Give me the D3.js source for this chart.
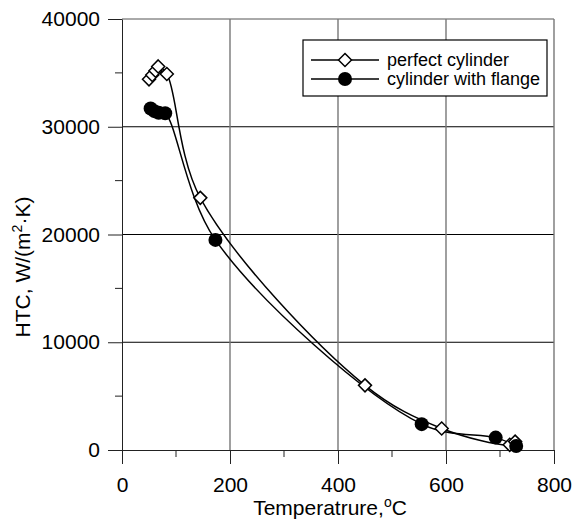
<!DOCTYPE html>
<html>
<head>
<meta charset="utf-8">
<script src="https://cdn.jsdelivr.net/npm/d3@7"></script>
<style>
  body { margin: 0; background: #fff; }
  text { font-family: "Liberation Sans", Arial, sans-serif; fill: #000; }
</style>
</head>
<body>
<div id="chart"></div>
<script>
// values
const perfectTemp = [50, 56, 62, 67, 83, 145, 450, 592, 718, 728];
const perfectHtc  = [34400, 34800, 35200, 35600, 34900, 23400, 6000, 2000, 480, 780];
const flangeTemp  = [53, 60, 68, 80, 173, 555, 692, 730];
const flangeHtc   = [31700, 31450, 31300, 31250, 19500, 2400, 1150, 370];
const xTicks = [0, 200, 400, 600, 800];
const xMinor = [100, 300, 500, 700];
const yTicks = [0, 10000, 20000, 30000, 40000];
const yMinor = [5000, 15000, 25000, 35000];
const seriesNames = ["perfect cylinder", "cylinder with flange"];

const width = 573, height = 522;
const margin = {top: 19, right: 19, bottom: 72, left: 122};

const svg = d3.select("#chart").append("svg")
  .attr("width", width)
  .attr("height", height);

const x = d3.scaleLinear().domain([0, 800]).range([margin.left, width - margin.right]);
const y = d3.scaleLinear().domain([0, 40000]).range([height - margin.bottom, margin.top]);

const perfect = perfectTemp.map((t, i) => ({t, h: perfectHtc[i]}));
const flange = flangeTemp.map((t, i) => ({t, h: flangeHtc[i]}));

// grid
svg.append("g")
  .selectAll("line")
  .data(yTicks.slice(1))
  .join("line")
    .attr("x1", x(0)).attr("x2", x(800))
    .attr("y1", d => y(d)).attr("y2", d => y(d))
    .attr("stroke", d => d === 40000 ? "#555" : "#000")
    .attr("stroke-width", 1);

svg.append("g")
  .selectAll("line")
  .data(xTicks.slice(1))
  .join("line")
    .attr("x1", d => x(d)).attr("x2", d => x(d))
    .attr("y1", y(0)).attr("y2", y(40000))
    .attr("stroke", "#777")
    .attr("stroke-width", 1.4);

// axes
const xAxis = g => g
  .attr("transform", `translate(0,${y(0)})`)
  .call(d3.axisBottom(x).tickValues(xTicks).tickSize(14).tickSizeOuter(0).tickPadding(13))
  .call(g => g.selectAll("text").attr("font-size", 21).attr("font-family", null))
  .call(g => g.selectAll("line, path").attr("stroke", "#222"))
  .call(g => g.append("g")
    .selectAll("line")
    .data(xMinor)
    .join("line")
      .attr("x1", d => x(d)).attr("x2", d => x(d))
      .attr("y1", 0).attr("y2", 7)
      .attr("stroke", "#222"));

const yAxis = g => g
  .attr("transform", `translate(${x(0)},0)`)
  .call(d3.axisLeft(y).tickValues(yTicks).tickFormat(d3.format("d")).tickSize(14).tickSizeOuter(0).tickPadding(8))
  .call(g => g.selectAll("text").attr("font-size", 21).attr("font-family", null))
  .call(g => g.selectAll("line, path").attr("stroke", "#222"))
  .call(g => g.append("g")
    .selectAll("line")
    .data(yMinor)
    .join("line")
      .attr("y1", d => y(d)).attr("y2", d => y(d))
      .attr("x1", -7).attr("x2", 0)
      .attr("stroke", "#222"));

svg.append("g").call(xAxis);
svg.append("g").call(yAxis);

// axis titles
const xt = svg.append("text")
  .attr("x", 330)
  .attr("y", 515)
  .attr("text-anchor", "middle")
  .attr("font-size", 21);
xt.append("tspan").text("Temperatrure,");
xt.append("tspan").attr("font-size", 14).attr("dy", -8).text("o");
xt.append("tspan").attr("dy", 8).text("C");

const yt = svg.append("text")
  .attr("transform", `translate(30,267) rotate(-90)`)
  .attr("text-anchor", "middle")
  .attr("font-size", 21);
yt.append("tspan").text("HTC, W/(m");
yt.append("tspan").attr("font-size", 14).attr("dy", -8).text("2");
yt.append("tspan").attr("dy", 8).text("·K)");

// lines
const line = d3.line()
  .x(d => x(d.t))
  .y(d => y(d.h))
  .curve(d3.curveCatmullRom.alpha(0.5));

svg.append("path")
  .datum(perfect)
  .attr("fill", "none")
  .attr("stroke", "#000")
  .attr("stroke-width", 1.5)
  .attr("d", line);

svg.append("path")
  .datum(flange)
  .attr("fill", "none")
  .attr("stroke", "#000")
  .attr("stroke-width", 1.5)
  .attr("d", line);

const diamond = "M0,-6.5L6.5,0L0,6.5L-6.5,0Z";

svg.append("g")
  .selectAll("path")
  .data(perfect)
  .join("path")
    .attr("d", diamond)
    .attr("transform", d => `translate(${x(d.t)},${y(d.h)})`)
    .attr("fill", "#fff")
    .attr("stroke", "#000")
    .attr("stroke-width", 1.5);

svg.append("g")
  .selectAll("circle")
  .data(flange)
  .join("circle")
    .attr("cx", d => x(d.t))
    .attr("cy", d => y(d.h))
    .attr("r", 7)
    .attr("fill", "#000");

// legend
const legend = svg.append("g").attr("transform", "translate(303,40)");
legend.append("rect")
  .attr("width", 244)
  .attr("height", 56)
  .attr("fill", "#fff")
  .attr("stroke", "#000")
  .attr("stroke-width", 1.2);

const rows = legend.selectAll("g.row")
  .data(seriesNames)
  .join("g")
    .attr("class", "row")
    .attr("transform", (d, i) => `translate(0,${20 + i * 19})`);

rows.append("line")
  .attr("x1", 8).attr("x2", 76)
  .attr("stroke", "#000")
  .attr("stroke-width", 1.5);

rows.filter((d, i) => i === 0).append("path")
  .attr("d", diamond)
  .attr("transform", "translate(42,0)")
  .attr("fill", "#fff")
  .attr("stroke", "#000")
  .attr("stroke-width", 1.5);

rows.filter((d, i) => i === 1).append("circle")
  .attr("cx", 42)
  .attr("r", 7)
  .attr("fill", "#000");

rows.append("text")
  .attr("x", 84)
  .attr("dy", "0.35em")
  .attr("font-size", 18)
  .text(d => d);
</script>
</body>
</html>
